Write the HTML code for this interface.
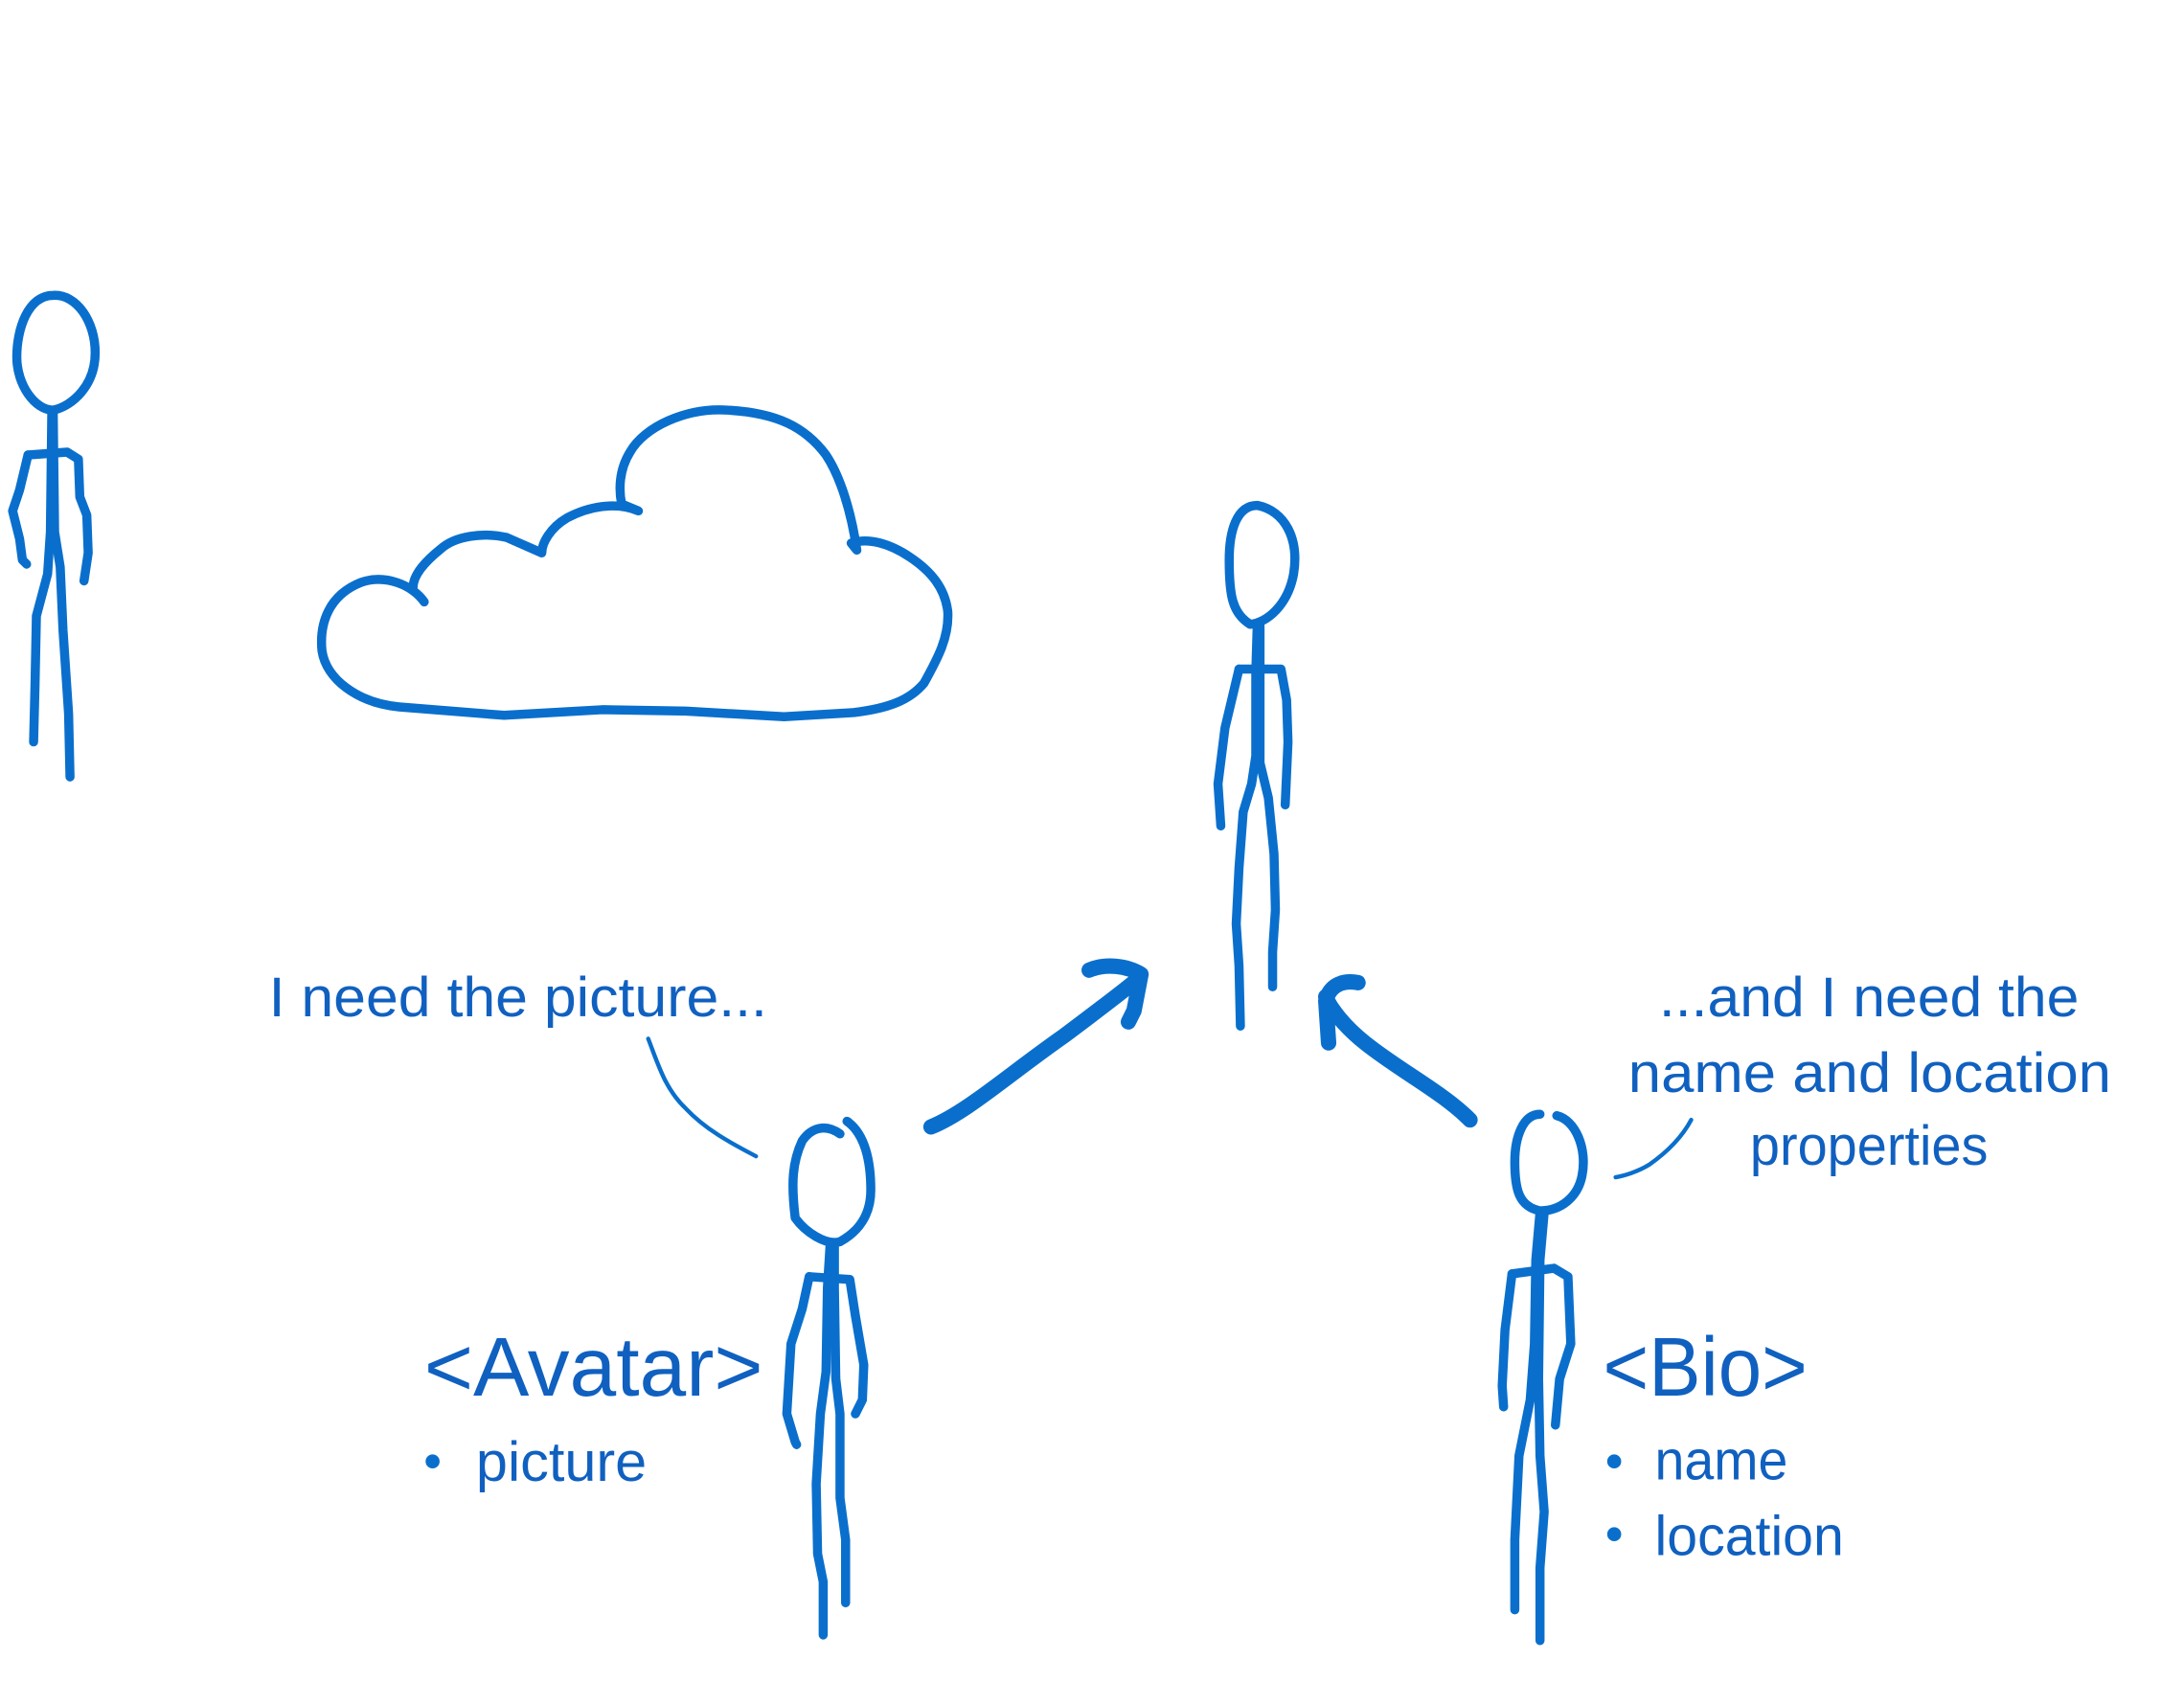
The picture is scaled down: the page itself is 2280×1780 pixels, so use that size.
<!DOCTYPE html>
<html><head><meta charset="utf-8"><style>
html,body{margin:0;padding:0;background:#fff;}
svg{display:block;}
text{font-family:"Liberation Sans Narrow","Liberation Sans",sans-serif;fill:#1060c0;}
</style></head><body>
<svg width="2280" height="1780" viewBox="0 0 1560 1218" preserveAspectRatio="none" xmlns="http://www.w3.org/2000/svg">
<g fill="none" stroke="#0a6fcc" stroke-width="6.5" stroke-linecap="round" stroke-linejoin="round">
<path d="M38,211 C20,211 12,235 12,255 C12,275 25,293 38,293 C52,290 68,275 68,252 C68,230 55,210 38,211 Z"/>
<path d="M37,294 L36,380 L34,410 L26,440 L25,490 L24,530"/>
<path d="M38,294 L39,380 L43,405 L45,450 L49,510 L50,555"/>
<path d="M20,325 L48,323 L56,328 L57,355 L62,368 L63,395 L60,415"/>
<path d="M20,325 L14,350 L9,365 L14,385 L16,400 L19,403"/>
<path d="M303,430 C295,418 275,410 258,416 C235,425 228,445 230,465 C233,485 255,502 285,505 L360,511 L430,507 L490,508 L560,512 L610,509 C635,506 650,500 660,488 C670,470 678,455 677,437 C675,420 665,408 650,398 C635,388 620,384 608,388 L612,393 C608,365 600,340 590,325 C575,305 555,295 520,293 C490,291 460,305 450,323 C442,336 442,350 444,360 L456,365 C440,358 420,362 405,370 C393,377 387,388 387,395 L362,384 C345,380 325,383 315,392 C305,400 295,410 295,420"/>
<path d="M898,361 C883,361 878,380 878,400 C878,425 880,438 893,446 C905,445 920,432 924,410 C928,385 918,365 898,361 Z"/>
<path d="M898,447 L897,480 L897,540 L894,560 L888,580 L885,620 L883,660 L885,690 L886,733"/>
<path d="M900,447 L900,480 L900,545 L906,570 L910,610 L911,650 L909,680 L909,705"/>
<path d="M885,478 L915,478 L919,500 L920,530 L918,575"/>
<path d="M885,478 L875,520 L870,560 L872,590"/>
<path d="M600,810 C590,803 580,805 573,815 C566,830 565,845 568,870 C575,880 590,890 600,887 C613,880 622,868 622,850 C622,830 618,810 605,801"/>
<path d="M593,888 L591,920 L590,980 L586,1010 L583,1060 L584,1110 L588,1130 L588,1168"/>
<path d="M596,888 L596,920 L597,985 L600,1010 L600,1070 L604,1100 L604,1145"/>
<path d="M578,912 L607,914 L611,940 L617,975 L616,1000 L611,1010"/>
<path d="M578,912 L573,935 L565,960 L562,1010 L568,1030 L569,1032"/>
<path d="M1100,796 C1088,796 1082,812 1082,830 C1082,850 1085,862 1100,865 C1115,865 1127,855 1130,840 C1134,820 1125,800 1112,797"/>
<path d="M1100,866 L1097,900 L1096,960 L1093,1000 L1085,1040 L1082,1100 L1082,1150"/>
<path d="M1103,866 L1100,900 L1099,985 L1100,1040 L1103,1080 L1100,1120 L1100,1172"/>
<path d="M1080,910 L1110,906 L1120,912 L1122,960 L1114,985 L1111,1018"/>
<path d="M1080,910 L1075,950 L1073,990 L1074,1005"/>
<path d="M463,742 C470,760 475,778 490,792 C505,808 525,818 540,826" stroke-width="3"/>
<path d="M1208,800 C1200,815 1188,825 1178,832 C1170,837 1160,840 1154,841" stroke-width="3"/>
<path d="M665,805 C690,795 720,768 760,740 C780,725 800,710 812,700" stroke-width="11"/>
<path d="M778,693 C790,688 805,690 815,696 L810,722 L806,730" stroke-width="11"/>
<path d="M1050,800 C1030,780 1000,765 975,745 C960,733 950,720 947,712" stroke-width="11"/>
<path d="M949,745 L947,715 C950,703 960,700 970,702" stroke-width="11"/>
</g>
<g fill="#0a6fcc">
<circle cx="309" cy="1044" r="5"/>
<circle cx="1153" cy="1044" r="5"/>
<circle cx="1153" cy="1096" r="5"/>
</g>
<text x="192" y="726" font-size="40" textLength="356" lengthAdjust="spacingAndGlyphs">I need the picture...</text>
<text x="1185" y="726" font-size="40" textLength="300" lengthAdjust="spacingAndGlyphs">...and I need the</text>
<text x="1163" y="780" font-size="40" textLength="345" lengthAdjust="spacingAndGlyphs">name and location</text>
<text x="1250" y="832" font-size="40" textLength="170" lengthAdjust="spacingAndGlyphs">properties</text>
<text x="303" y="997" font-size="60" textLength="242" lengthAdjust="spacingAndGlyphs">&lt;Avatar&gt;</text>
<text x="340" y="1058" font-size="40" textLength="122" lengthAdjust="spacingAndGlyphs">picture</text>
<text x="1145" y="997" font-size="60" textLength="146" lengthAdjust="spacingAndGlyphs">&lt;Bio&gt;</text>
<text x="1182" y="1057" font-size="40" textLength="95" lengthAdjust="spacingAndGlyphs">name</text>
<text x="1182" y="1111" font-size="40" textLength="135" lengthAdjust="spacingAndGlyphs">location</text>
</svg>
</body></html>
